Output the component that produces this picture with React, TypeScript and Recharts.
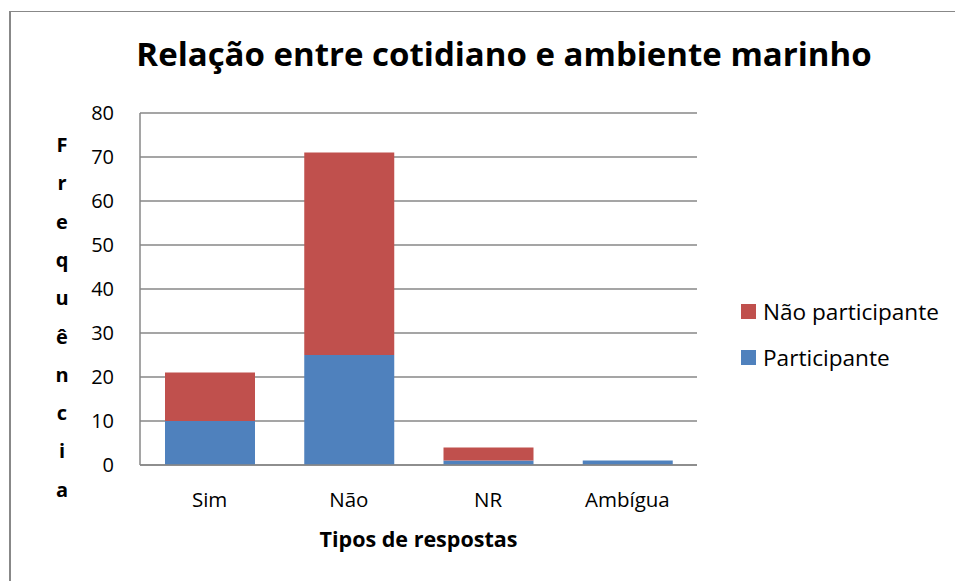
import { Bar, BarChart, CartesianGrid, XAxis, YAxis } from 'recharts';

const categories = ['Sim', 'Não', 'NR', 'Ambígua'];
const participante = [10, 25, 1, 1];
const naoParticipante = [11, 46, 3, 0];
const yTicks = [0, 10, 20, 30, 40, 50, 60, 70, 80];

const data = categories.map((tipo, i) => ({
  tipo,
  participante: participante[i],
  naoParticipante: naoParticipante[i],
}));

const FONT = '"Open Sans", sans-serif';
const BLUE = '#4F81BD';
const RED = '#C0504D';
const GRID = '#878787';

const yLetters = 'Frequência'.split('');

function VerticalLabel() {
  return (
    <text x={62} y={145} textAnchor="middle" fontFamily={FONT} fontWeight={700} fontSize={20} fill="#000">
      {yLetters.map((ch, i) => (
        <tspan key={i} x={62} y={152 + i * 38.3}>
          {ch}
        </tspan>
      ))}
    </text>
  );
}

const legendItems = [
  { label: 'Não participante', color: RED },
  { label: 'Participante', color: BLUE },
];

export default function App() {
  return (
    <div style={{ position: 'absolute', left: 0, top: 0, width: 955, height: 581, background: '#fff' }}>
      <div
        style={{
          position: 'absolute',
          left: 9,
          top: 11,
          right: 0,
          bottom: 0,
          borderLeft: '2px solid #888',
          borderTop: '1.5px solid #888',
        }}
      />
      <div
        style={{
          position: 'absolute',
          left: 0,
          width: 1008,
          top: 31,
          textAlign: 'center',
          fontFamily: FONT,
          fontWeight: 700,
          fontSize: 33,
          color: '#000',
        }}
      >
        Relação entre cotidiano e ambiente marinho
      </div>
      <BarChart
        width={955}
        height={581}
        data={data}
        margin={{ top: 113, right: 258, bottom: 0, left: 0 }}
        barSize={90}
        style={{ position: 'absolute', left: 0, top: 0 }}
      >
        <CartesianGrid vertical={false} stroke={GRID} strokeWidth={1.5} />
        <XAxis
          dataKey="tipo"
          tickLine={false}
          axisLine={{ stroke: GRID, strokeWidth: 1.5 }}
          tick={{ fill: '#000', fontSize: 20.5, fontFamily: FONT }}
          tickMargin={21}
          height={116}
          label={{
            value: 'Tipos de respostas',
            position: 'insideTop',
            offset: 67,
            fill: '#000',
            fontSize: 21.5,
            fontWeight: 700,
            fontFamily: FONT,
          }}
        />
        <YAxis
          domain={[0, 80]}
          ticks={yTicks}
          interval={0}
          width={140}
          tickLine={false}
          axisLine={{ stroke: GRID, strokeWidth: 1.5 }}
          tick={{ fill: '#000', fontSize: 20, fontFamily: FONT }}
          tickMargin={20}
          label={<VerticalLabel />}
        />
        <Bar dataKey="participante" stackId="a" fill={BLUE} isAnimationActive={false} />
        <Bar dataKey="naoParticipante" stackId="a" fill={RED} isAnimationActive={false} />
      </BarChart>
      <div style={{ position: 'absolute', left: 741, top: 288, fontFamily: FONT, fontSize: 22.6, color: '#000' }}>
        {legendItems.map((item) => (
          <div key={item.label} style={{ display: 'flex', alignItems: 'center', height: 46 }}>
            <span style={{ width: 15, height: 15, background: item.color, marginRight: 7, display: 'inline-block' }} />
            {item.label}
          </div>
        ))}
      </div>
    </div>
  );
}
